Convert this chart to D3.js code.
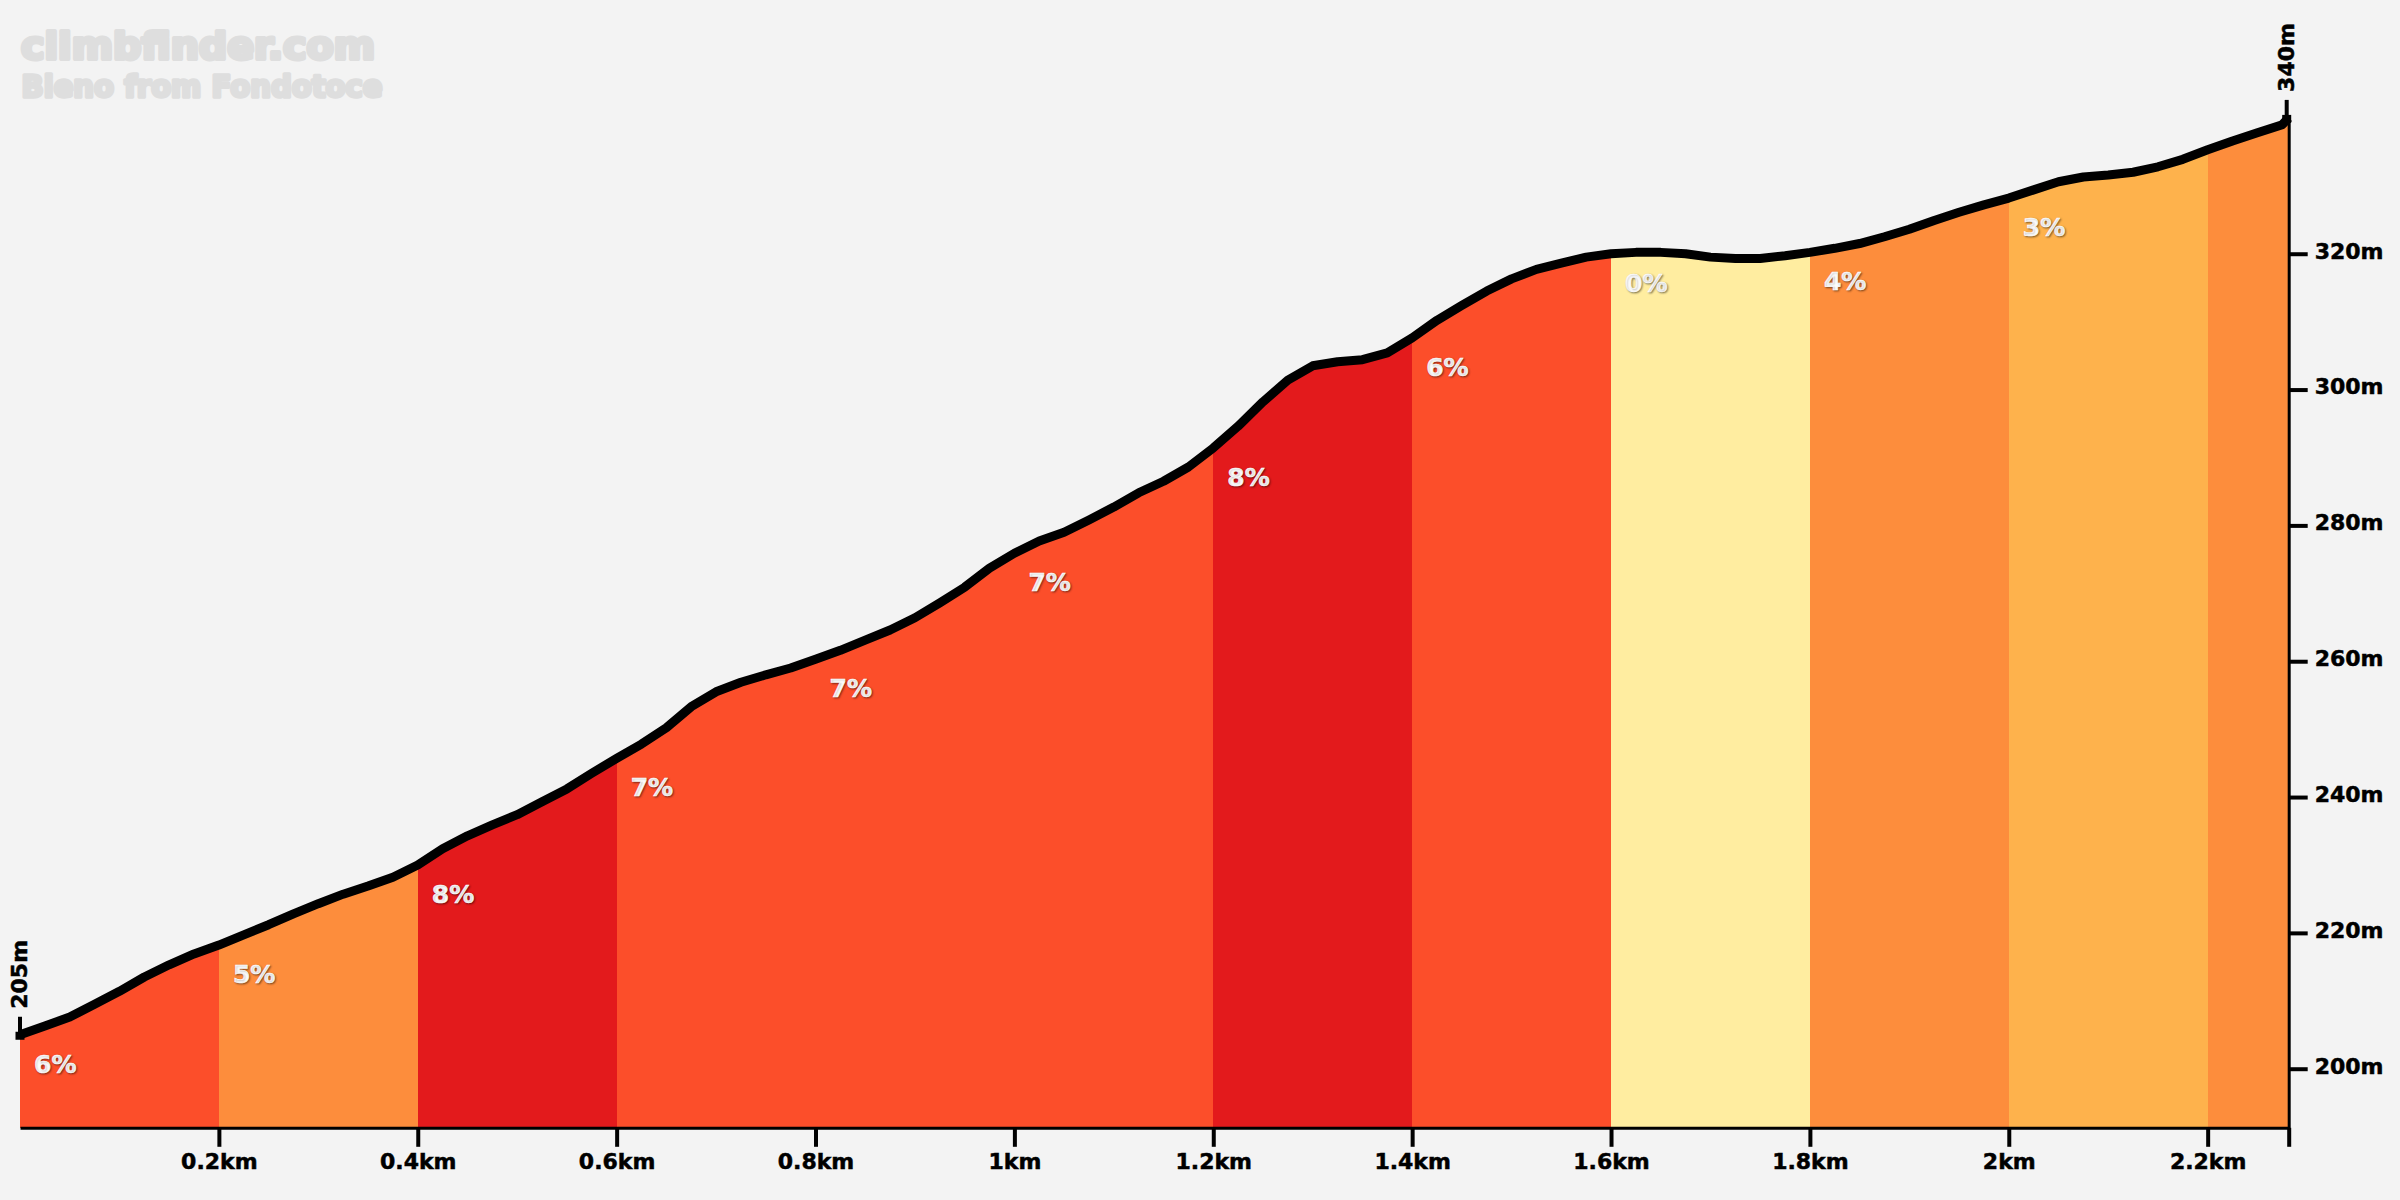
<!DOCTYPE html>
<html>
<head>
<meta charset="utf-8">
<script src="https://cdn.jsdelivr.net/npm/d3@7"></script>
<style>
  html, body { margin: 0; background: #f3f3f3; }
  text { font-family: "DejaVu Sans", sans-serif; font-weight: 700; }
</style>
</head>
<body>
<svg id="chart" width="2400" height="1200"></svg>
<script>
const distances = [0, 0.025, 0.05, 0.075, 0.1, 0.125, 0.15, 0.175, 0.2, 0.225, 0.25, 0.275, 0.3, 0.325, 0.35, 0.375,
  0.4, 0.425, 0.45, 0.475, 0.5, 0.525, 0.55, 0.575, 0.6, 0.625, 0.65, 0.675, 0.7, 0.725, 0.75, 0.775,
  0.8, 0.825, 0.85, 0.875, 0.9, 0.925, 0.95, 0.975, 1, 1.025, 1.05, 1.075, 1.1, 1.125, 1.15, 1.175,
  1.2, 1.225, 1.25, 1.275, 1.3, 1.325, 1.35, 1.375, 1.4, 1.425, 1.45, 1.475, 1.5, 1.525, 1.55, 1.575,
  1.6, 1.625, 1.65, 1.675, 1.7, 1.725, 1.75, 1.775, 1.8, 1.825, 1.85, 1.875, 1.9, 1.925, 1.95, 1.975,
  2, 2.025, 2.05, 2.075, 2.1, 2.125, 2.15, 2.175, 2.2, 2.225, 2.25, 2.275, 2.2815];
const elevations = [205, 206.3, 207.6, 209.5, 211.4, 213.5, 215.3, 216.9, 218.2, 219.7, 221.2, 222.8, 224.3, 225.7, 226.9, 228.2,
  230, 232.4, 234.3, 235.9, 237.4, 239.3, 241.2, 243.5, 245.7, 247.8, 250.2, 253.3, 255.5, 256.9, 258, 259,
  260.3, 261.6, 263.1, 264.6, 266.4, 268.6, 270.9, 273.7, 275.9, 277.7, 279, 280.8, 282.7, 284.8, 286.5, 288.6,
  291.4, 294.6, 298.2, 301.4, 303.5, 304.1, 304.4, 305.4, 307.6, 310.2, 312.4, 314.5, 316.3, 317.7, 318.6, 319.5,
  320, 320.2, 320.2, 320, 319.5, 319.3, 319.3, 319.7, 320.2, 320.8, 321.5, 322.5, 323.6, 324.9, 326.1, 327.2,
  328.2, 329.4, 330.6, 331.3, 331.6, 332, 332.8, 333.9, 335.3, 336.6, 337.8, 339, 340];

// one gradient block per 200m, the last one is short and has no label
const segmentStarts = [0, 0.2, 0.4, 0.6, 0.8, 1, 1.2, 1.4, 1.6, 1.8, 2, 2.2];
const segmentEnds = [0.2, 0.4, 0.6, 0.8, 1, 1.2, 1.4, 1.6, 1.8, 2, 2.2, 2.2815];
const segmentGrades = [6, 5, 8, 7, 7, 7, 8, 6, 0, 4, 3, 4];
const segmentLabels = ["6%", "5%", "8%", "7%", "7%", "7%", "8%", "6%", "0%", "4%", "3%", ""];

const xTicks = [0.2, 0.4, 0.6, 0.8, 1, 1.2, 1.4, 1.6, 1.8, 2, 2.2, 2.2815];
const xTickLabels = ["0.2km", "0.4km", "0.6km", "0.8km", "1km", "1.2km", "1.4km", "1.6km", "1.8km", "2km", "2.2km", ""];
const yTicks = [200, 220, 240, 260, 280, 300, 320];

const title = "climbfinder.com";
const subtitle = "Bieno from Fondotoce";

const svg = d3.select("#chart");
const points = distances.map((d, i) => ({ d, e: elevations[i] }));

const x = d3.scaleLinear().domain([0, 2.2815]).range([20, 2288.7]);
const y = d3.scaleLinear().domain([191.3, 340]).range([1127.8, 117.9]);

const gradeColor = d3.scaleThreshold()
  .domain([1, 4, 6, 8])
  .range(["#ffeda0", "#feb24c", "#fd8d3c", "#fc4e2a", "#e31a1c"]);

// watermark
function addWatermark(text, px, py, size, len, sw) {
  svg.append("text")
    .attr("x", px)
    .attr("y", py)
    .attr("textLength", len)
    .attr("lengthAdjust", "spacingAndGlyphs")
    .attr("fill", "#dedede")
    .attr("stroke", "#dedede")
    .attr("stroke-width", sw)
    .attr("stroke-linejoin", "round")
    .style("font-size", `${size}px`)
    .text(text);
}
addWatermark(title, 21, 59, 38, 354, 4);
addWatermark(subtitle, 21.5, 97, 30, 361, 3.5);

// coloured blocks under the line, crisp so same colours don't show a seam
const area = d3.area().x(p => x(p.d)).y0(y(191.3)).y1(p => y(p.e));
svg.append("g")
  .attr("shape-rendering", "crispEdges")
  .selectAll("path")
  .data(segmentStarts)
  .join("path")
  .attr("fill", (s, i) => gradeColor(segmentGrades[i]))
  .attr("d", (s, i) => area(points.filter(p => p.d >= s && p.d <= segmentEnds[i])));

// axes
const xAxis = svg.append("g")
  .attr("transform", `translate(0,${y(191.3)})`)
  .call(d3.axisBottom(x)
    .tickValues(xTicks)
    .tickFormat((t, i) => xTickLabels[i])
    .tickSize(19)
    .tickSizeOuter(0)
    .tickPadding(7));
const yAxis = svg.append("g")
  .attr("transform", `translate(${x(2.2815)},0)`)
  .call(d3.axisRight(y)
    .tickValues(yTicks)
    .tickFormat(t => `${t}m`)
    .tickSize(19)
    .tickSizeOuter(0)
    .tickPadding(7));

[xAxis, yAxis].forEach(axis => {
  axis.select(".domain").attr("stroke", "#000").attr("stroke-width", 3);
  axis.selectAll(".tick line").attr("stroke", "#000").attr("stroke-width", 4);
  axis.selectAll(".tick text")
    .attr("fill", "#000")
    .attr("stroke", "#000")
    .attr("stroke-width", 0.5)
    .style("font-family", '"DejaVu Sans", sans-serif')
    .style("font-weight", 700)
    .style("font-size", "22px");
});
yAxis.selectAll(".tick text").attr("dy", "0.2em");

// profile line
svg.append("path")
  .datum(points)
  .attr("fill", "none")
  .attr("stroke", "#000")
  .attr("stroke-width", 9)
  .attr("stroke-linejoin", "round")
  .attr("d", d3.line().x(p => x(p.d)).y(p => y(p.e)));

// start and finish marks with rotated height labels
[0, points.length - 1].forEach(i => {
  const p = points[i];
  const px = x(p.d) - (i ? 2 : 0);
  const py = y(p.e);
  svg.append("line")
    .attr("x1", px).attr("x2", px)
    .attr("y1", py).attr("y2", py - 18)
    .attr("stroke", "#000")
    .attr("stroke-width", 4);
  svg.append("rect")
    .attr("x", px - 4.5)
    .attr("y", py - 3)
    .attr("width", 9)
    .attr("height", 8)
    .attr("fill", "#000");
  svg.append("text")
    .attr("transform", `translate(${px + 7},${py - 26}) rotate(-90)`)
    .attr("fill", "#000")
    .attr("stroke", "#000")
    .attr("stroke-width", 0.5)
    .style("font-size", "22px")
    .text(`${p.e}m`);
});

// grade labels, hung a fixed distance under the start of each block
svg.append("g").selectAll("text")
  .data(segmentStarts)
  .join("text")
  .attr("x", s => x(s) + 14)
  .attr("y", s => y(points.find(p => p.d === s).e) + 38)
  .attr("fill", "#fff")
  .attr("stroke", "#fff")
  .attr("stroke-width", 0.6)
  .style("font-size", "25px")
  .style("text-shadow", "1px 1px 2px rgba(0,0,0,0.45)")
  .text((s, i) => segmentLabels[i]);
</script>
</body>
</html>
